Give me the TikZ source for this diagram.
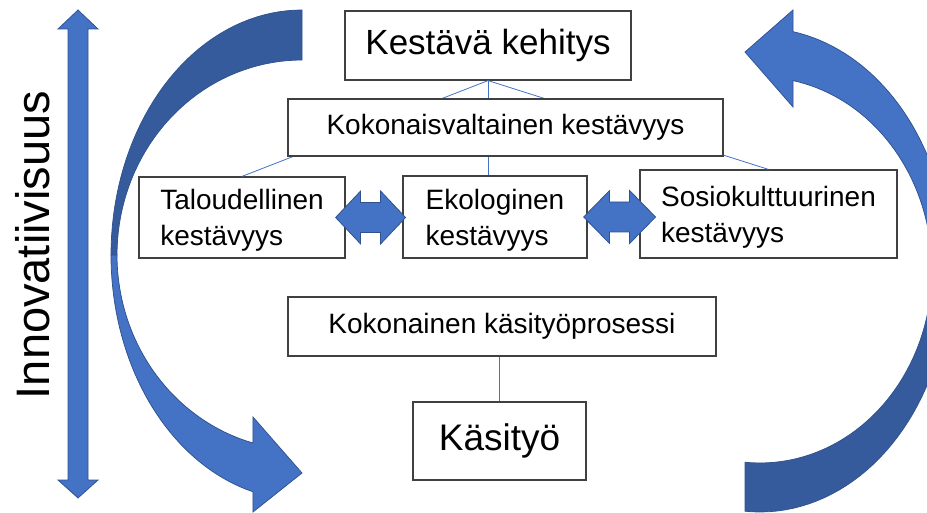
\documentclass[tikz,border=0pt]{standalone}
\usepackage{fontspec}
\setmainfont{Liberation Sans}
\definecolor{arrowblue}{HTML}{4472C4}
\definecolor{arrowdark}{HTML}{365B9D}
\definecolor{arrowedge}{HTML}{2F528F}
\begin{document}
\begin{tikzpicture}[
	x=1pt,
	y=-1pt,
	box/.style={draw=black!75,line width=1.2pt,fill=white,align=left,inner sep=0pt,font=\fontsize{28}{36}\selectfont},
	pairbox/.style={box,text depth=0pt},
	bigbox/.style={box,font=\fontsize{35}{42}\selectfont},
	link/.style={draw=arrowblue,line width=0.8pt},
	band/.style={fill=arrowblue,draw=arrowedge,line width=0.75pt},
	backband/.style={fill=arrowdark,draw=arrowedge,line width=0.75pt},
	twin/.style={fill=arrowblue,draw=arrowedge,line width=0.75pt}
	]
	\clip (0,0) rectangle (927,513);

	\fill[backband] plot[domain=270:180,samples=40,variable=\t] ({302+191*cos(\t)},{255+245*sin(\t)})
		-- plot[domain=180:270,samples=40,variable=\t] ({302+185*cos(\t)},{255+195*sin(\t)}) -- cycle;
	\fill[band] plot[domain=180:104.9,samples=40,variable=\t] ({302+191*cos(\t)},{255+245*sin(\t)})
		-- (253,512) -- (302,473) -- (253,417)
		-- plot[domain=105.4:180,samples=40,variable=\t] ({302+185*cos(\t)},{255+195*sin(\t)}) -- cycle;
	\fill[backband] plot[domain=0:94.5,samples=40,variable=\t] ({760+190*cos(\t)},{270+242*sin(\t)})
		-- plot[domain=95:0,samples=40,variable=\t] ({760+172*cos(\t)},{270+193*sin(\t)}) -- cycle;
	\fill[band] plot[domain=0:-80,samples=40,variable=\t] ({760+190*cos(\t)},{270+242*sin(\t)})
		-- (793,10) -- (745,52) -- (793,107)
		-- plot[domain=-78.9:0,samples=40,variable=\t] ({760+172*cos(\t)},{270+193*sin(\t)}) -- cycle;

	\fill[twin] (78,10) -- (98,29) -- (88,29) -- (88,480) -- (98,480) -- (78,498)
		-- (58,480) -- (68,480) -- (68,29) -- (58,29) -- cycle;
	\node[rotate=90,font=\fontsize{47}{50}\selectfont] (innov) at (33,245) {Innovatiivisuus};

	\node[bigbox,minimum width=286pt,minimum height=69pt] (kehitys) at (488,45.5) {Kestävä kehitys};
	\node[pairbox,minimum width=206pt,minimum height=81pt] (talous) at (242,217.5) {Taloudellinen\\kestävyys};
	\node[pairbox,minimum width=184pt,minimum height=82pt] (eko) at (495,217) {Ekologinen\\kestävyys};
	\node[pairbox,minimum width=257pt,minimum height=88pt] (sosio) at (768.5,214) {Sosiokulttuurinen\\kestävyys};
	\draw[link] (kehitys.south) -- (talous.north);
	\draw[link] (kehitys.south) -- (kehitys.south |- eko.north);
	\draw[link] (kehitys.south) -- (sosio.north);
	\node[box,minimum width=435pt,minimum height=57pt] (kokonais) at (505.5,127.5) {Kokonaisvaltainen kestävyys};

	\fill[twin] ([xshift=-10pt]talous.east) -- ++(25,-26.5) -- ++(0,11.5) -- ++(20,0) -- ++(0,-11.5) -- ++(25,26.5)
		-- ++(-25,26.5) -- ++(0,-11.5) -- ++(-20,0) -- ++(0,11.5) -- cycle;
	\fill[twin] ([xshift=-4pt]eko.east) -- ++(26,-26.5) -- ++(0,11.5) -- ++(20,0) -- ++(0,-11.5) -- ++(26,26.5)
		-- ++(-26,26.5) -- ++(0,-11.5) -- ++(-20,0) -- ++(0,11.5) -- cycle;

	\node[box,minimum width=428pt,minimum height=59pt] (prosessi) at (502,326.5) {Kokonainen käsityöprosessi};
	\node[bigbox,minimum width=173pt,minimum height=78pt,font=\fontsize{37}{42}\selectfont] (kasityo) at (499.5,441) {Käsityö};
	\draw[link] (kasityo.north |- prosessi.south) -- (kasityo.north);
\end{tikzpicture}
\end{document}
